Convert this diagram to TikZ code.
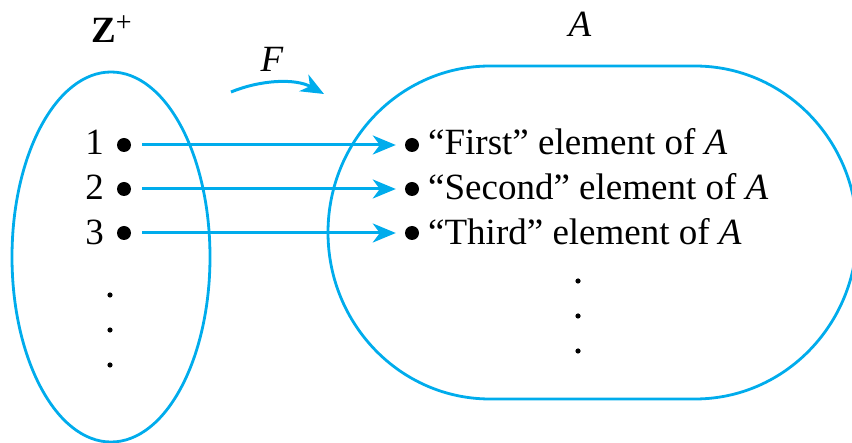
\documentclass[tikz,border=0pt]{standalone}
\usepackage{fontspec}
\setmainfont{Liberation Serif}
\usetikzlibrary{arrows.meta}
\definecolor{setblue}{RGB}{0,172,236}
\begin{document}
\begin{tikzpicture}[x=1pt,y=-1pt,
  every node/.style={inner sep=0pt, font=\fontsize{37}{40}\selectfont},
  setline/.style={draw=setblue, line width=2.8pt},
  arr/.style={draw=setblue, line width=3pt, -{Stealth[length=23pt,width=19pt,inset=7pt]}},
  bul/.style={circle, fill=black, inner sep=0pt, minimum size=14pt},
  sdot/.style={fill=black}]
\useasboundingbox (0,0) rectangle (852,443);
% sets
\draw[setline] (111,257) ellipse [x radius=99, y radius=185];
\draw[setline] (490,66) -- (695,66)
  arc[start angle=-90, end angle=90, x radius=162, y radius=166.5]
  -- (490,399)
  arc[start angle=90, end angle=270, x radius=162, y radius=166.5] -- cycle;
% labels
\node[anchor=base west] (Z) at (91,43) {\textbf{Z}\raisebox{11pt}{\fontsize{28}{28}\selectfont +}};
\node[anchor=base] (Alab) at (580,37) {\textit{A}};
\node[anchor=base] (Flab) at (272,72) {\textit{F}};
% F arrow
\coordinate (fs) at (231,92);
\coordinate (fe) at (324,94);
\draw[arr] (fs) .. controls (260,80) and (295,78) .. (fe);
% left elements
\node[anchor=base east] (n1) at (104,155) {1};
\node[anchor=base east] (n2) at (104,200) {2};
\node[anchor=base east] (n3) at (104,245) {3};
\node[bul] (lb1) at (124,145) {};
\node[bul] (lb2) at (124,189) {};
\node[bul] (lb3) at (124,233) {};
% right elements
\node[bul] (rb1) at (412,145) {};
\node[bul] (rb2) at (412,189) {};
\node[bul] (rb3) at (412,233) {};
\node[anchor=base west] (t1) at (428,155) {“First” element of \textit{A}};
\node[anchor=base west] (t2) at (428,200) {“Second” element of \textit{A}};
\node[anchor=base west] (t3) at (428,245) {“Third” element of \textit{A}};
% mapping arrows
\draw[arr, shorten <=11pt, shorten >=9pt] (lb1.east) -- (rb1.west);
\draw[arr, shorten <=11pt, shorten >=9pt] (lb2.east) -- (rb2.west);
\draw[arr, shorten <=11pt, shorten >=9pt] (lb3.east) -- (rb3.west);
% vertical ellipses
\fill[sdot] (110,295) circle[radius=2.6];
\fill[sdot] (110,330) circle[radius=2.6];
\fill[sdot] (110,365) circle[radius=2.6];
\fill[sdot] (578,281) circle[radius=2.6];
\fill[sdot] (578,316) circle[radius=2.6];
\fill[sdot] (578,351) circle[radius=2.6];
\end{tikzpicture}
\end{document}
